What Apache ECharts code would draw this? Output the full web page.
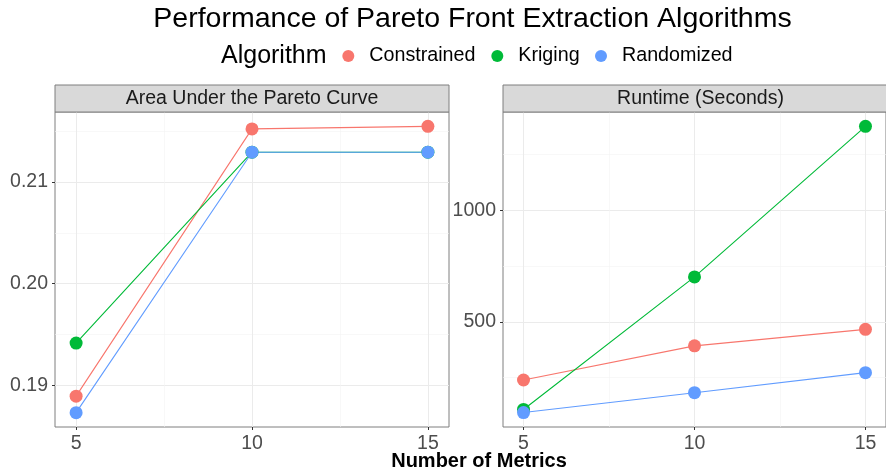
<!DOCTYPE html>
<html>
<head>
<meta charset="utf-8">
<script src="https://cdn.jsdelivr.net/npm/echarts@6/dist/echarts.min.js"></script>
<style>
html,body{margin:0;padding:0;background:#fff;}
#chart{width:886px;height:472px;}
</style>
</head>
<body>
<div id="chart"></div>
<script>
// ---- data ----
var metrics = [5, 10, 15];
var algorithms = ['Constrained', 'Kriging', 'Randomized'];
var colors = ['#F8766D', '#00BA38', '#619CFF'];
var aucConstrained = [0.18895, 0.21522, 0.21547];
var aucKriging     = [0.19417, 0.21293, 0.21293];
var aucRandomized  = [0.18733, 0.21293, 0.21293];
var rtConstrained = [239, 392, 466];
var rtKriging     = [107, 701, 1376];
var rtRandomized  = [93, 182, 272];
var xTicks = [5, 10, 15];
var xMinor = [7.5, 12.5];
var aucTicks = [0.19, 0.20, 0.21];
var aucMinor = [0.195, 0.205, 0.215];
var rtTicks = [500, 1000];
var rtMinor = [250, 750, 1250];
var panelTitles = ['Area Under the Pareto Curve', 'Runtime (Seconds)'];

var FONT = '"Liberation Sans", Arial, Helvetica, sans-serif';
var chart = echarts.init(document.getElementById('chart'), null, {renderer: 'canvas'});

function pairs(vals) { return metrics.map(function (m, i) { return [m, vals[i]]; }); }

var aucSets = [aucConstrained, aucKriging, aucRandomized];
var rtSets = [rtConstrained, rtKriging, rtRandomized];

var grids = [
  {left: 55, top: 112, width: 394, height: 315},
  {left: 503, top: 112, width: 395, height: 315}
];

function majorX(gi) {
  return {
    type: 'value', gridIndex: gi, min: 4.4, max: 15.6, position: 'bottom',
    axisLine: {show: false},
    axisTick: {show: true, length: 3, lineStyle: {color: '#333', width: 1}, customValues: xTicks},
    axisLabel: {show: true, customValues: xTicks, color: '#4D4D4D', fontSize: 19.5, fontFamily: FONT, margin: 7},
    splitLine: {show: true, lineStyle: {color: '#EBEBEB', width: 1}}
  };
}
function minorX(gi) {
  return {
    type: 'value', gridIndex: gi, min: 4.4, max: 15.6, position: 'top',
    axisLine: {show: false},
    axisTick: {show: false, customValues: xMinor},
    axisLabel: {show: false, customValues: xMinor},
    splitLine: {show: true, lineStyle: {color: '#F4F4F4', width: 0.6}}
  };
}
function majorY(gi, min, max, ticks, fmt) {
  return {
    type: 'value', gridIndex: gi, min: min, max: max, position: 'left',
    axisLine: {show: false},
    axisTick: {show: true, length: 3, lineStyle: {color: '#333', width: 1}, customValues: ticks},
    axisLabel: {show: true, customValues: ticks, color: '#4D4D4D', fontSize: 19.5, fontFamily: FONT, margin: 7,
      formatter: fmt},
    splitLine: {show: true, lineStyle: {color: '#EBEBEB', width: 1}}
  };
}
function minorY(gi, min, max, ticks) {
  return {
    type: 'value', gridIndex: gi, min: min, max: max, position: 'right',
    axisLine: {show: false},
    axisTick: {show: false, customValues: ticks},
    axisLabel: {show: false, customValues: ticks},
    splitLine: {show: true, lineStyle: {color: '#F4F4F4', width: 0.6}}
  };
}

var series = [];
// lines first, then points
[[aucSets, 0], [rtSets, 1]].forEach(function (p) {
  var sets = p[0], gi = p[1];
  sets.forEach(function (vals, k) {
    series.push({
      type: 'line', name: algorithms[k], xAxisIndex: gi * 2, yAxisIndex: gi * 2,
      data: pairs(vals), showSymbol: false, symbol: 'none', z: 2,
      lineStyle: {color: colors[k], width: 1.1}, itemStyle: {color: colors[k]},
      silent: true, animation: false
    });
  });
});
[[aucSets, 0], [rtSets, 1]].forEach(function (p) {
  var sets = p[0], gi = p[1];
  sets.forEach(function (vals, k) {
    series.push({
      type: 'scatter', name: algorithms[k], xAxisIndex: gi * 2, yAxisIndex: gi * 2,
      data: pairs(vals), symbol: 'circle', symbolSize: 13, z: 3,
      itemStyle: {color: colors[k], opacity: 1}, animation: false
    });
  });
});

var graphics = [
  {type: 'text', x: 472.5, y: 19, style: {text: 'Performance of Pareto Front Extraction Algorithms',
    font: '28.5px ' + FONT, fill: '#000', textAlign: 'center', textVerticalAlign: 'middle'}},
  {type: 'text', x: 221, y: 56, style: {text: 'Algorithm', font: '25px ' + FONT, fill: '#000',
    textAlign: 'left', textVerticalAlign: 'middle'}},
  {type: 'text', x: 479, y: 461, style: {text: 'Number of Metrics', font: 'bold 20px ' + FONT, fill: '#000',
    textAlign: 'center', textVerticalAlign: 'middle'}}
];
grids.forEach(function (g, i) {
  graphics.push({type: 'rect', shape: {x: g.left, y: 85, width: g.width, height: 27},
    style: {fill: '#D9D9D9', stroke: '#7F7F7F', lineWidth: 1}, z: 10});
  graphics.push({type: 'text', x: g.left + g.width / 2, y: 99, z: 11,
    style: {text: panelTitles[i], font: '19.5px ' + FONT, fill: '#1A1A1A', textAlign: 'center', textVerticalAlign: 'middle'}});
});

// legend: one component per algorithm, circle centres placed as in the reference
var legendCentres = [348.3, 497.3, 601];
var legends = algorithms.map(function (a, k) {
  return {
    data: [a], left: legendCentres[k] - 6, top: 46, padding: 0, orient: 'horizontal',
    icon: 'circle', itemWidth: 12, itemHeight: 12, itemGap: 0,
    textStyle: {fontSize: 19.7, fontFamily: FONT, color: '#000', padding: [0, 0, 0, 10]},
    selectedMode: false
  };
});

chart.setOption({
  backgroundColor: '#fff',
  animation: false,
  grid: grids.map(function (g) {
    return {left: g.left, top: g.top, width: g.width, height: g.height, show: true,
      borderColor: '#7F7F7F', borderWidth: 1, backgroundColor: 'transparent', containLabel: false};
  }),
  legend: legends,
  xAxis: [majorX(0), minorX(0), majorX(1), minorX(1)],
  yAxis: [
    majorY(0, 0.18592, 0.21688, aucTicks, function (v) { return v.toFixed(2); }),
    minorY(0, 0.18592, 0.21688, aucMinor),
    majorY(1, 28.3, 1440.2, rtTicks, function (v) { return String(v); }),
    minorY(1, 28.3, 1440.2, rtMinor)
  ],
  graphic: graphics,
  series: series
});
</script>
</body>
</html>
